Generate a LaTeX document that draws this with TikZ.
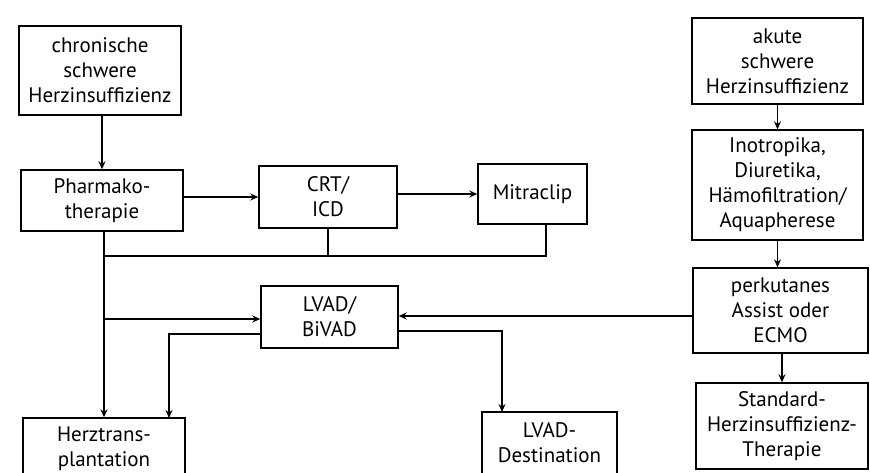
\documentclass[tikz,border=0pt]{standalone}
\usepackage{fontspec}
\setmainfont{PT Sans}
\usetikzlibrary{arrows.meta}
\begin{document}
\begin{tikzpicture}[x=1pt,y=-1pt,
  box/.style={draw,line width=1.4pt,align=center,inner sep=0pt,
    font=\fontsize{21}{25}\selectfont},
  conn/.style={line width=1.4pt},
  arr/.style={conn,-{Stealth[length=8pt,width=7pt]}}]
\useasboundingbox (0,0) rectangle (870,473);
\clip (0,0) rectangle (870,473);
\fill[white] (0,0) rectangle (870,473);
% left column
\node[box,minimum width=162pt,minimum height=89pt] (chron) at (100,70.5) {chronische\\schwere\\Herzinsuffizienz};
\node[box,minimum width=162pt,minimum height=61pt] (pharm) at (102,200.5) {Pharmako-\\therapie};
\node[box,minimum width=138pt,minimum height=62pt] (crt) at (328,197) {CRT/\\ICD};
\node[box,minimum width=109pt,minimum height=60pt] (mitra) at (532.5,194) {Mitraclip};
\node[box,minimum width=137pt,minimum height=62pt] (lvad) at (329.5,317) {LVAD/\\BiVAD};
\node[box,minimum width=162pt,minimum height=62pt] (herz) at (104,449) {Herztrans-\\plantation};
\node[box,minimum width=135pt,minimum height=62pt] (dest) at (549.5,443) {LVAD-\\Destination};
% right column
\node[box,minimum width=171pt,minimum height=86pt] (akute) at (777.5,61) {akute\\schwere\\Herzinsuffizienz};
\node[box,minimum width=171pt,minimum height=110pt] (ino) at (777.5,185) {Inotropika,\\Diuretika,\\Hämofiltration/\\Aquapherese};
\node[box,minimum width=175pt,minimum height=85pt] (ecmo) at (780.5,310.5) {perkutanes\\Assist oder\\ECMO};
\node[box,minimum width=172pt,minimum height=86pt] (std) at (782,426) {Standard-\\Herzinsuffizienz-\\Therapie};
% junction coordinates
\coordinate (j1) at (104,256);
\coordinate (mb) at (546,224);
\coordinate (lvin) at (104,319);
\coordinate (lvout) at (261,334);
\coordinate (hz2) at (169,418);
\coordinate (ecout) at (693,316);
\coordinate (lvr) at (398,331);
\coordinate (ds) at (502,412);
% connectors
\draw[arr] (chron.south -| pharm.north) -- (pharm.north);
\draw[arr] (pharm.east |- crt.west) -- (crt.west);
\draw[arr] (crt.east |- mitra.west) -- (mitra.west);
\draw[arr] (pharm.south -| herz.north) -- (herz.north);
\draw[conn] (crt.south) -- (crt.south |- j1);
\draw[conn] (mb) |- (j1);
\draw[arr] (lvin) -- (lvin -| lvad.west);
\draw[arr] (lvout) -| (hz2);
\draw[arr] (ecout) -- (ecout -| lvad.east);
\draw[arr] (lvr) -| (ds);
\draw[arr] (akute.south) -- (ino.north);
\draw[arr] (ino.south) -- (ino.south |- ecmo.north);
\draw[arr] (ecmo.south -| std.north) -- (std.north);
\end{tikzpicture}
\end{document}
